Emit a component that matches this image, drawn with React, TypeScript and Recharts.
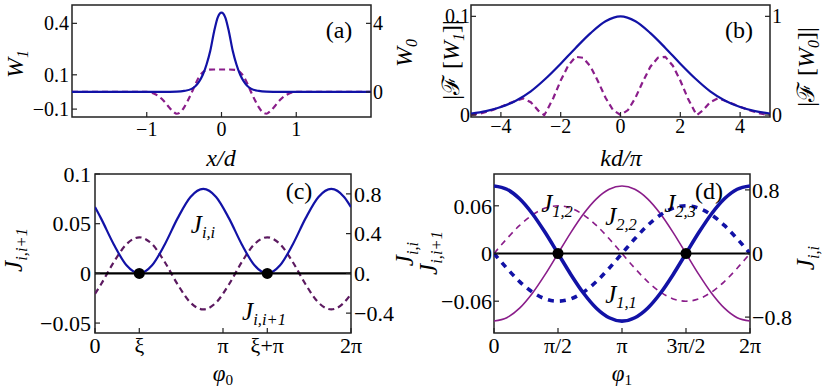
import React from 'react';
import { LineChart, Line, XAxis, YAxis, ReferenceArea, ReferenceLine, ReferenceDot } from 'recharts';

const FONT = 'Liberation Serif, Times New Roman, Times, serif';
const BLUE = '#1212a6';
const PURPLE = '#8a1d8a';
const DARK_PURPLE = '#5c1a60';
const FRAME = '#222';

// (a) Wannier functions vs x/d
const aBlueX = [-2, -1.5, -1, -0.8, -0.6, -0.5, -0.4, -0.35, -0.3, -0.25, -0.2, -0.15, -0.1, -0.05, 0, 0.05, 0.1, 0.15, 0.2, 0.25, 0.3, 0.35, 0.4, 0.5, 0.6, 0.8, 1, 1.5, 2];
const aBlueY = [0, 0, 0, 0.003, 0.02, 0.06, 0.18, 0.33, 0.6, 1.0, 1.6, 2.4, 3.5, 4.35, 4.62, 4.35, 3.5, 2.4, 1.6, 1.0, 0.6, 0.33, 0.18, 0.06, 0.02, 0.003, 0, 0, 0];
const aDashX = [-2, -1.5, -1, -0.95, -0.9, -0.85, -0.8, -0.75, -0.7, -0.65, -0.6, -0.55, -0.5, -0.45, -0.4, -0.35, -0.3, -0.25, -0.2, -0.1, 0, 0.1, 0.2, 0.25, 0.3, 0.35, 0.4, 0.45, 0.5, 0.55, 0.6, 0.65, 0.7, 0.75, 0.8, 0.85, 0.9, 0.95, 1, 1.5, 2];
const aDashY = [0, 0, 0, -0.003, -0.01, -0.022, -0.04, -0.063, -0.09, -0.113, -0.127, -0.118, -0.09, -0.05, -0.005, 0.045, 0.088, 0.115, 0.128, 0.131, 0.131, 0.131, 0.128, 0.115, 0.088, 0.045, -0.005, -0.05, -0.09, -0.118, -0.127, -0.113, -0.09, -0.063, -0.04, -0.022, -0.01, -0.003, 0, 0, 0];
const aTicksX = [-1, 0, 1];
const aTicksL = [-0.1, 0.1, 0.4];
const aTicksR = [0, 4];

// (b) Fourier transforms vs kd/pi
const bBlueX = [-5, -4.5, -4, -3.5, -3, -2.5, -2, -1.5, -1, -0.5, 0, 0.5, 1, 1.5, 2, 2.5, 3, 3.5, 4, 4.5, 5];
const bBlueY = [0.0015, 0.004, 0.0082, 0.0145, 0.024, 0.037, 0.052, 0.068, 0.083, 0.095, 0.1, 0.095, 0.083, 0.068, 0.052, 0.037, 0.024, 0.0145, 0.0082, 0.004, 0.0015];
const bDashX = [-5, -4.75, -4.5, -4.25, -4, -3.75, -3.5, -3.25, -3, -2.75, -2.55, -2.5, -2.25, -2, -1.75, -1.5, -1.25, -1, -0.75, -0.5, -0.25, 0, 0.25, 0.5, 0.75, 1, 1.25, 1.5, 1.75, 2, 2.25, 2.5, 2.55, 2.75, 3, 3.25, 3.5, 3.75, 4, 4.25, 4.5, 4.75, 5];
const bDashY = [0, 0.01, 0.03, 0.055, 0.083, 0.115, 0.145, 0.168, 0.13, 0.045, 0, 0.025, 0.17, 0.35, 0.5, 0.59, 0.58, 0.49, 0.34, 0.175, 0.05, 0, 0.05, 0.175, 0.34, 0.49, 0.58, 0.59, 0.5, 0.35, 0.17, 0.025, 0, 0.045, 0.13, 0.168, 0.145, 0.115, 0.083, 0.055, 0.03, 0.01, 0];
const bTicksX = [-4, -2, 0, 2, 4];
const bTicksL = [0, 0.1];
const bTicksR = [0, 1];

// (c) couplings vs phi_0 (x in units of pi)
const cX = [0, 0.046, 0.146, 0.246, 0.346, 0.446, 0.546, 0.646, 0.746, 0.846, 0.946, 1.046, 1.146, 1.246, 1.346, 1.446, 1.546, 1.646, 1.746, 1.846, 1.946, 2];
const cJii = [0.668, 0.556, 0.294, 0.081, 0, 0.081, 0.294, 0.556, 0.769, 0.85, 0.769, 0.556, 0.294, 0.081, 0, 0.081, 0.294, 0.556, 0.769, 0.85, 0.769, 0.667];
const cJij = [-0.0206, -0.0112, 0.0112, 0.0294, 0.0363, 0.0294, 0.0112, -0.0112, -0.0294, -0.0363, -0.0294, -0.0112, 0.0112, 0.0294, 0.0363, 0.0294, 0.0112, -0.0112, -0.0294, -0.0363, -0.0294, -0.0206];
const cDots = [0.346, 1.346];
const cTicksX = [0, 0.346, 1, 1.346, 2];
const cLabelsX = ['0', 'ξ', 'π', 'ξ+π', '2π'];
const cTicksL = [-0.05, 0, 0.05, 0.1];
const cTicksR = [-0.4, 0, 0.4, 0.8];
const cLabelsR = ['−0.4', '0.', '0.4', '0.8'];

// (d) couplings vs phi_1 (x in units of pi)
const dX = [0, 0.1, 0.2, 0.3, 0.4, 0.5, 0.6, 0.7, 0.8, 0.9, 1, 1.1, 1.2, 1.3, 1.4, 1.5, 1.6, 1.7, 1.8, 1.9, 2];
const dJ11 = [0.85, 0.808, 0.688, 0.5, 0.263, 0, -0.263, -0.5, -0.688, -0.808, -0.85, -0.808, -0.688, -0.5, -0.263, 0, 0.263, 0.5, 0.688, 0.808, 0.85];
const dJ22 = [-0.85, -0.808, -0.688, -0.5, -0.263, 0, 0.263, 0.5, 0.688, 0.808, 0.85, 0.808, 0.688, 0.5, 0.263, 0, -0.263, -0.5, -0.688, -0.808, -0.85];
const dJ12 = [0, 0.0185, 0.0353, 0.0485, 0.0571, 0.06, 0.0571, 0.0485, 0.0353, 0.0185, 0, -0.0185, -0.0353, -0.0485, -0.0571, -0.06, -0.0571, -0.0485, -0.0353, -0.0185, 0];
const dJ23 = [0, -0.0185, -0.0353, -0.0485, -0.0571, -0.06, -0.0571, -0.0485, -0.0353, -0.0185, 0, 0.0185, 0.0353, 0.0485, 0.0571, 0.06, 0.0571, 0.0485, 0.0353, 0.0185, 0];
const dDots = [0.5, 1.5];
const dTicksX = [0, 0.5, 1, 1.5, 2];
const dLabelsX = ['0', 'π/2', 'π', '3π/2', '2π'];
const dTicksL = [-0.06, 0, 0.06];
const dTicksR = [-0.8, 0, 0.8];

const zip = (xs: number[], ys: number[]) => xs.map((x, i) => ({ x, y: ys[i] }));
const minus = (v: number) => String(v).replace('-', '−');
const pick = (ticks: number[], labels: string[]) => (v: number) => labels[ticks.indexOf(v)] ?? String(v);
const tickFont = (size: number) => ({ fill: '#000', fontSize: size, fontFamily: FONT });
const tl = { stroke: FRAME, strokeWidth: 1.2 };

function T({ x, y, size, rot, italic, children }: any) {
    return (
        <div
            style={{
                position: 'absolute',
                left: x,
                top: y,
                transform: `translate(-50%, -50%)${rot ? ' rotate(-90deg)' : ''}`,
                fontSize: size,
                fontStyle: italic ? 'italic' : 'normal',
                fontFamily: FONT,
                whiteSpace: 'nowrap',
                lineHeight: 1,
                color: '#000',
            }}
        >
            {children}
        </div>
    );
}

const Sub = ({ children, italic = true }: any) => (
    <sub style={{ fontSize: '0.66em', verticalAlign: '-0.32em', lineHeight: 0, fontStyle: italic ? 'italic' : 'normal' }}>{children}</sub>
);

export default function App() {
    return (
        <div style={{ position: 'absolute', left: 0, top: 0, width: 830, height: 391, background: '#fff', overflow: 'hidden', fontFamily: FONT }}>
            {/* (a) */}
            <div style={{ position: 'absolute', left: 0, top: 0 }}>
                <LineChart width={415} height={150} margin={{ top: 5, right: 0, bottom: 0, left: 0 }}>
                    <XAxis dataKey="x" type="number" domain={[-2, 2]} allowDataOverflow ticks={aTicksX} interval={0} height={33}
                        axisLine={false} tickLine={tl} tickSize={-5} tickMargin={10} tick={tickFont(20)} tickFormatter={minus} />
                    <YAxis yAxisId="l" type="number" domain={[-0.146, 0.507]} allowDataOverflow ticks={aTicksL} interval={0} width={72}
                        axisLine={false} tickLine={tl} tickSize={-5} tickMargin={8} tick={tickFont(20)} tickFormatter={minus} />
                    <YAxis yAxisId="r" orientation="right" type="number" domain={[-1.46, 5.07]} allowDataOverflow ticks={aTicksR} interval={0} width={44}
                        axisLine={false} tickLine={tl} tickSize={-5} tickMargin={7} tick={tickFont(20)} tickFormatter={minus} />
                    <ReferenceArea yAxisId="l" x1={-2} x2={2} y1={-0.146} y2={0.507} fill="none" stroke={FRAME} strokeWidth={1.5} ifOverflow="visible" />
                    <Line yAxisId="l" data={zip(aDashX, aDashY)} dataKey="y" type="monotone" stroke={PURPLE} strokeWidth={2.2} strokeDasharray="6 4" dot={false} isAnimationActive={false} />
                    <Line yAxisId="r" data={zip(aBlueX, aBlueY)} dataKey="y" type="monotone" stroke={BLUE} strokeWidth={2.2} dot={false} isAnimationActive={false} />
                </LineChart>
            </div>

            {/* (b) */}
            <div style={{ position: 'absolute', left: 415, top: 0 }}>
                <LineChart width={415} height={150} margin={{ top: 5, right: 0, bottom: 0, left: 0 }}>
                    <XAxis dataKey="x" type="number" domain={[-5, 5]} allowDataOverflow ticks={bTicksX} interval={0} height={33}
                        axisLine={false} tickLine={tl} tickSize={-5} tickMargin={7} tick={tickFont(20)} tickFormatter={minus} />
                    <YAxis yAxisId="l" type="number" domain={[-0.002, 0.1115]} allowDataOverflow ticks={bTicksL} interval={0} width={56}
                        axisLine={false} tickLine={tl} tickSize={-5} tickMargin={6} tick={tickFont(20)} />
                    <YAxis yAxisId="r" orientation="right" type="number" domain={[-0.02, 1.115]} allowDataOverflow ticks={bTicksR} interval={0} width={60}
                        axisLine={false} tickLine={tl} tickSize={-5} tickMargin={7} tick={tickFont(20)} />
                    <ReferenceArea yAxisId="l" x1={-5} x2={5} y1={-0.002} y2={0.1115} fill="none" stroke={FRAME} strokeWidth={1.5} ifOverflow="visible" />
                    <Line yAxisId="r" data={zip(bDashX, bDashY)} dataKey="y" type="linear" stroke={PURPLE} strokeWidth={2.2} strokeDasharray="6 4" dot={false} isAnimationActive={false} />
                    <Line yAxisId="l" data={zip(bBlueX, bBlueY)} dataKey="y" type="monotone" stroke={BLUE} strokeWidth={2.2} dot={false} isAnimationActive={false} />
                </LineChart>
            </div>

            {/* (c) */}
            <div style={{ position: 'absolute', left: 0, top: 150 }}>
                <LineChart width={415} height={241} margin={{ top: 24, right: 0, bottom: 0, left: 0 }}>
                    <XAxis dataKey="x" type="number" domain={[0, 2]} allowDataOverflow ticks={cTicksX} interval={0} height={58}
                        axisLine={false} tickLine={tl} tickSize={-5} tickMargin={9} tick={tickFont(22)} tickFormatter={pick(cTicksX, cLabelsX)} />
                    <YAxis yAxisId="l" type="number" domain={[-0.06, 0.1]} allowDataOverflow ticks={cTicksL} interval={0} width={95}
                        axisLine={false} tickLine={tl} tickSize={-5} tickMargin={9} tick={tickFont(22)} tickFormatter={minus} />
                    <YAxis yAxisId="r" orientation="right" type="number" domain={[-0.6, 1.0]} allowDataOverflow ticks={cTicksR} interval={0} width={64}
                        axisLine={false} tickLine={tl} tickSize={-5} tickMargin={8} tick={tickFont(22)} tickFormatter={pick(cTicksR, cLabelsR)} />
                    <ReferenceArea yAxisId="l" x1={0} x2={2} y1={-0.06} y2={0.1} fill="none" stroke={FRAME} strokeWidth={1.5} ifOverflow="visible" />
                    <Line yAxisId="l" data={zip(cX, cJij)} dataKey="y" type="monotone" stroke={DARK_PURPLE} strokeWidth={2.2} strokeDasharray="6 4" dot={false} isAnimationActive={false} />
                    <Line yAxisId="r" data={zip(cX, cJii)} dataKey="y" type="monotone" stroke={BLUE} strokeWidth={2.2} dot={false} isAnimationActive={false} />
                    <ReferenceLine yAxisId="l" y={0} stroke="#000" strokeWidth={2.2} />
                    {cDots.map((x) => (
                        <ReferenceDot key={x} yAxisId="l" x={x} y={0} r={5.5} fill="#000" stroke="none" />
                    ))}
                </LineChart>
            </div>

            {/* (d) */}
            <div style={{ position: 'absolute', left: 415, top: 150 }}>
                <LineChart width={415} height={241} margin={{ top: 24, right: 0, bottom: 0, left: 0 }}>
                    <XAxis dataKey="x" type="number" domain={[0, 2]} allowDataOverflow ticks={dTicksX} interval={0} height={58}
                        axisLine={false} tickLine={tl} tickSize={-5} tickMargin={9} tick={tickFont(22)} tickFormatter={pick(dTicksX, dLabelsX)} />
                    <YAxis yAxisId="l" type="number" domain={[-0.1, 0.1]} allowDataOverflow ticks={dTicksL} interval={0} width={79}
                        axisLine={false} tickLine={tl} tickSize={-5} tickMargin={7} tick={tickFont(22)} tickFormatter={minus} />
                    <YAxis yAxisId="r" orientation="right" type="number" domain={[-1, 1]} allowDataOverflow ticks={dTicksR} interval={0} width={80}
                        axisLine={false} tickLine={tl} tickSize={-5} tickMargin={7} tick={tickFont(22)} tickFormatter={minus} />
                    <ReferenceArea yAxisId="l" x1={0} x2={2} y1={-0.1} y2={0.1} fill="none" stroke={FRAME} strokeWidth={1.5} ifOverflow="visible" />
                    <Line yAxisId="r" data={zip(dX, dJ22)} dataKey="y" type="monotone" stroke={PURPLE} strokeWidth={1.6} dot={false} isAnimationActive={false} />
                    <Line yAxisId="l" data={zip(dX, dJ12)} dataKey="y" type="monotone" stroke={PURPLE} strokeWidth={1.6} strokeDasharray="6 5" dot={false} isAnimationActive={false} />
                    <Line yAxisId="l" data={zip(dX, dJ23)} dataKey="y" type="monotone" stroke={BLUE} strokeWidth={3.6} strokeDasharray="6 6" dot={false} isAnimationActive={false} />
                    <Line yAxisId="r" data={zip(dX, dJ11)} dataKey="y" type="monotone" stroke={BLUE} strokeWidth={3.6} dot={false} isAnimationActive={false} />
                    <ReferenceLine yAxisId="l" y={0} stroke="#000" strokeWidth={2.2} />
                    {dDots.map((x) => (
                        <ReferenceDot key={x} yAxisId="l" x={x} y={0} r={5.5} fill="#000" stroke="none" />
                    ))}
                </LineChart>
            </div>

            {/* axis titles */}
            <T x={15} y={64} size={24} rot italic>W<Sub>1</Sub></T>
            <T x={404} y={53} size={24} rot italic>W<Sub>0</Sub></T>
            <T x={451} y={60} size={24} rot>|ℱ [<i>W</i><Sub>1</Sub>]|</T>
            <T x={806} y={67} size={24} rot>|ℱ [<i>W</i><Sub>0</Sub>]|</T>
            <T x={221} y={158} size={24} italic>x/d</T>
            <T x={621} y={158} size={24} italic>kd/π</T>
            <T x={13} y={250} size={25} rot italic>J<Sub>i,i+1</Sub></T>
            <T x={404} y={254} size={25} rot italic>J<Sub>i,i</Sub></T>
            <T x={428} y={253} size={25} rot italic>J<Sub>i,i+1</Sub></T>
            <T x={805} y={258} size={25} rot italic>J<Sub>i,i</Sub></T>
            <T x={223} y={373} size={23} italic>φ<Sub italic={false}>0</Sub></T>
            <T x={622} y={373} size={23} italic>φ<Sub italic={false}>1</Sub></T>

            {/* annotations */}
            <T x={339} y={30} size={24}>(a)</T>
            <T x={739} y={30} size={24}>(b)</T>
            <T x={299} y={191} size={24}>(c)</T>
            <T x={709} y={191} size={24}>(d)</T>
            <T x={203} y={224} size={25} italic>J<Sub>i,i</Sub></T>
            <T x={264} y={311} size={25} italic>J<Sub>i,i+1</Sub></T>
            <T x={557} y={203} size={25} italic>J<Sub>1,2</Sub></T>
            <T x={621} y={216} size={25} italic>J<Sub>2,2</Sub></T>
            <T x={680} y={203} size={25} italic>J<Sub>2,3</Sub></T>
            <T x={621} y={294} size={25} italic>J<Sub>1,1</Sub></T>
        </div>
    );
}
